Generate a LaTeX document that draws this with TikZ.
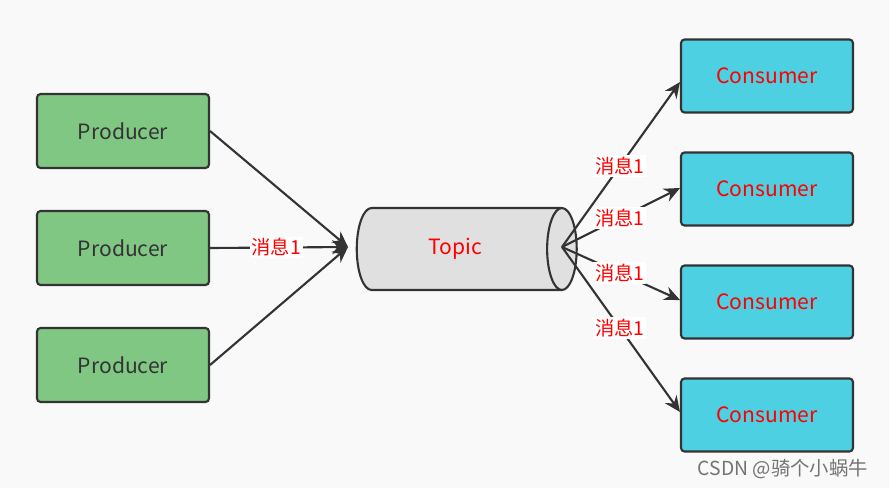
\documentclass[tikz,border=0pt]{standalone}
\usepackage{fontspec}
\setmainfont{Noto Sans CJK SC}
\usetikzlibrary{positioning, shapes.geometric, arrows.meta}
\definecolor{bgGray}{HTML}{F9F9F9}
\definecolor{prodGreen}{HTML}{81C784}
\definecolor{consCyan}{HTML}{4DD0E1}
\definecolor{lineDark}{HTML}{333333}
\tikzstyle{producerNode}=[draw=lineDark, line width=1.2pt, fill=prodGreen, rounded corners=2pt, minimum width=3.44cm, minimum height=1.48cm, text=lineDark, font=\fontsize{12}{14}\selectfont]
\tikzstyle{consumerNode}=[draw=lineDark, line width=1.2pt, fill=consCyan, rounded corners=2pt, minimum width=3.44cm, minimum height=1.46cm, text=red, font=\fontsize{12}{14}\selectfont]
\tikzstyle{msgFlow}=[-{Stealth[length=9pt,width=8pt]}, very thick, draw=lineDark]
\tikzstyle{msgLabel}=[fill=white, text=red, inner sep=1pt, font=\fontsize{11}{13}\selectfont]

\begin{document}
\begin{tikzpicture}[x=0.02cm, y=-0.02cm]
  \fill[bgGray] (0,0) rectangle (889,488);
  \useasboundingbox (0,0) rectangle (889,488);

  % producers
  \node[producerNode] (p1) at (123, 131) {Producer};
  \node[producerNode] (p2) at (123, 248) {Producer};
  \node[producerNode] (p3) at (123, 365) {Producer};

  % topic
  \node[cylinder, draw=lineDark, line width=1.2pt, fill=black!12, shape aspect=0.9,
        minimum width=1.64cm, minimum height=4.4cm, text=red,
        font=\fontsize{12}{14}\selectfont] (topic) at (455, 249) {Topic};

  % consumers
  \node[consumerNode] (c1) at (767, 76) {Consumer};
  \node[consumerNode] (c2) at (767, 189) {Consumer};
  \node[consumerNode] (c3) at (767, 302) {Consumer};
  \node[consumerNode] (c4) at (767, 415) {Consumer};

  \coordinate (tin) at (348, 247);
  \coordinate (tout) at (562, 247);
  \coordinate (e1) at (680, 82);
  \coordinate (e2) at (680, 188);
  \coordinate (e3) at (680, 300);
  \coordinate (e4) at (680, 412);

  \draw[msgFlow] (p1.east) -- (tin);
  \draw[msgFlow] (p2.east) -- node[msgLabel, pos=0.48] {消息1} (tin);
  \draw[msgFlow] (p3.east) -- (tin);

  \draw[msgFlow] (tout) -- node[msgLabel, pos=0.49] {消息1} (e1);
  \draw[msgFlow] (tout) -- node[msgLabel, pos=0.49] {消息1} (e2);
  \draw[msgFlow] (tout) -- node[msgLabel, pos=0.49] {消息1} (e3);
  \draw[msgFlow] (tout) -- node[msgLabel, pos=0.49] {消息1} (e4);

  \node[text=black!55, font=\fontsize{11}{13}\selectfont, anchor=east] (mark) at (874, 469) {CSDN @骑个小蜗牛};
\end{tikzpicture}
\end{document}
